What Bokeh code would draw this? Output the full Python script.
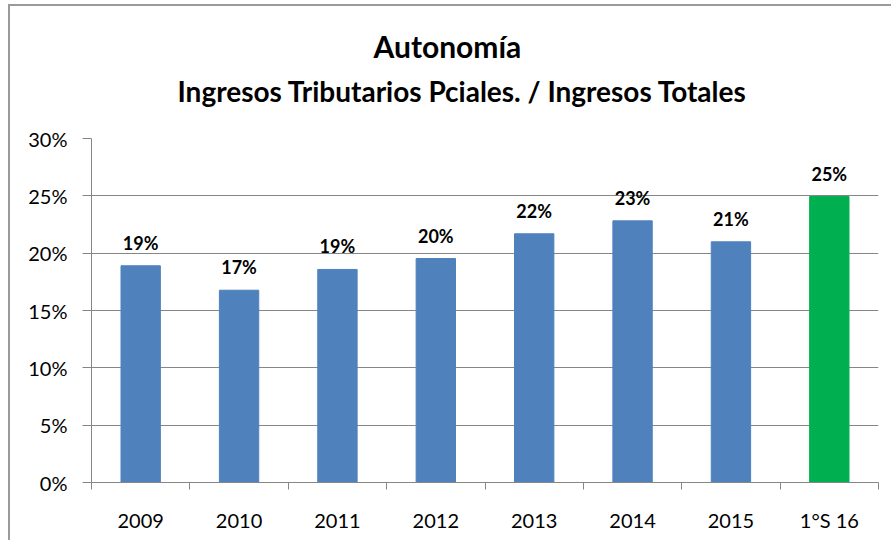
from bokeh.plotting import figure
from bokeh.models import (ColumnDataSource, Range1d, FixedTicker, NumeralTickFormatter,
                          Title, LabelSet)
from bokeh.core.properties import value
from bokeh.embed import file_html
from bokeh.resources import INLINE

categories = ["2009", "2010", "2011", "2012", "2013", "2014", "2015", "1°S 16"]
values = [0.189, 0.1677, 0.1858, 0.1953, 0.2169, 0.2282, 0.2099, 0.2494]
labels = ["19%", "17%", "19%", "20%", "22%", "23%", "21%", "25%"]
y_ticks = [0.0, 0.05, 0.10, 0.15, 0.20, 0.25, 0.30]

BLUE = "#4F81BD"
GREEN = "#00B050"
GRID = "#868686"
FONT = "Lato"

n = len(categories)
xs = [i + 0.5 for i in range(n)]
colors = [BLUE] * (n - 1) + [GREEN]

src = ColumnDataSource(dict(x=xs, top=values, color=colors, label=labels, cat=categories))

p = figure(width=883, height=536, output_backend="svg", toolbar_location=None,
           x_range=Range1d(0, n), y_range=Range1d(0, 0.30),
           min_border_left=81, min_border_right=15, min_border_bottom=60, min_border_top=132)
p.outline_line_color = None
p.background_fill_color = "white"
p.border_fill_color = "white"
p.styles = {"margin-left": "10px", "margin-top": "6px",
            "box-shadow": "-2px -2px 0 0 #9a9a9a"}

p.vbar(x="x", top="top", width=0.4, fill_color="color", line_color="color", source=src)

lbl = LabelSet(x="x", y="top", text="label", source=src, text_align="center",
               text_baseline="bottom", y_offset=12, text_font=value(FONT),
               text_font_style="bold", text_font_size="18px", text_color="black")
p.add_layout(lbl)

# y axis
p.yaxis.ticker = FixedTicker(ticks=y_ticks)
p.yaxis.formatter = NumeralTickFormatter(format="0%")
p.yaxis.major_label_text_font = FONT
p.yaxis.major_label_text_font_size = "20px"
p.yaxis.major_label_text_color = "black"
p.yaxis.axis_line_color = GRID
p.yaxis.major_tick_line_color = GRID
p.yaxis.major_tick_out = 9
p.yaxis.major_tick_in = 0
p.yaxis.minor_tick_line_color = None
p.yaxis.major_label_standoff = 15

# x axis: ticks between categories, labels at centres
p.xaxis.ticker = FixedTicker(ticks=xs, minor_ticks=list(range(n + 1)))
p.xaxis.major_label_overrides = {x: c for x, c in zip(xs, categories)}
p.xaxis.major_tick_line_color = None
p.xaxis.major_tick_out = 0
p.xaxis.major_tick_in = 0
p.xaxis.minor_tick_line_color = GRID
p.xaxis.minor_tick_out = 7
p.xaxis.minor_tick_in = 0
p.xaxis.axis_line_color = GRID
p.xaxis.major_label_text_font = FONT
p.xaxis.major_label_text_font_size = "20px"
p.xaxis.major_label_text_color = "black"
p.xaxis.major_label_standoff = 18

p.xgrid.grid_line_color = None
p.ygrid.ticker = FixedTicker(ticks=y_ticks)
p.ygrid.grid_line_color = GRID
p.ygrid.grid_line_width = 1

# titles (stacked outward from the plot frame)
spacer = Title(text=" ", text_font_size="10px", standoff=18)
p.add_layout(spacer, "above")
sub = Title(text="Ingresos Tributarios Pciales. / Ingresos Totales", align="left", offset=86,
            text_font=FONT, text_font_style="bold", text_font_size="28px",
            text_color="black", standoff=0)
p.add_layout(sub, "above")
ttl = Title(text="Autonomía", align="left", offset=282, text_font=FONT,
            text_font_style="bold", text_font_size="30px", text_color="black", standoff=16)
p.add_layout(ttl, "above")

open("out.html", "w").write(file_html(p, INLINE))
